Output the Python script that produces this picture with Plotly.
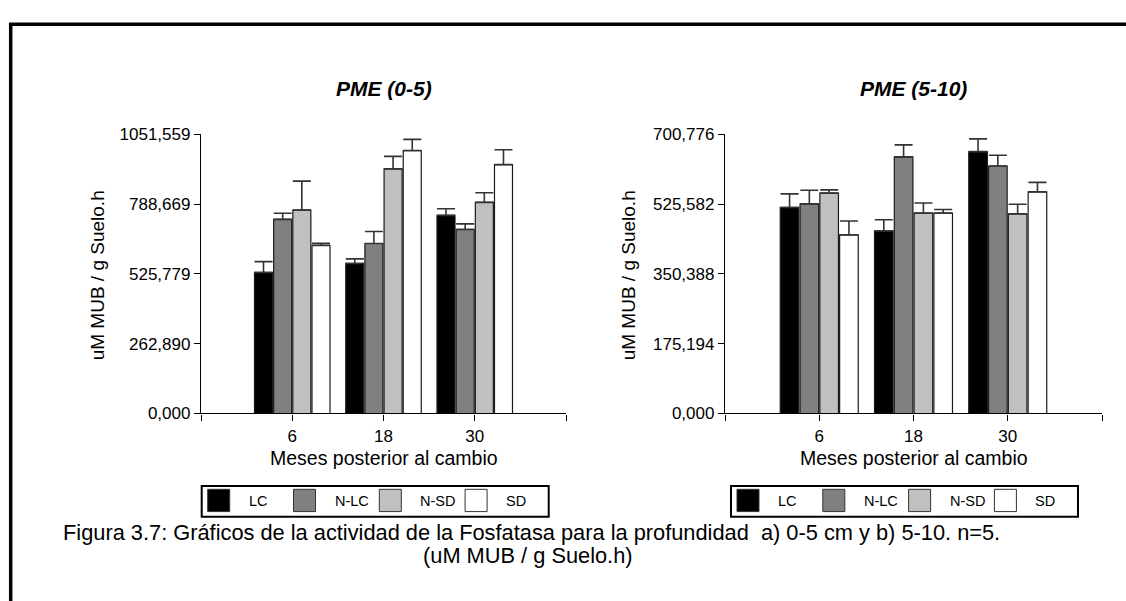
import plotly.graph_objects as go

# ---- data -------------------------------------------------------------
months = ["6", "18", "30"]
series = ["LC", "N-LC", "N-SD", "SD"]
colors = ["#000000", "#808080", "#c0c0c0", "#ffffff"]

# PME activity, 0-5 cm (means and upper SE per series, months 6/18/30)
pme05_lc = [531, 565, 746]
pme05_nlc = [731, 640, 693]
pme05_nsd = [766, 921, 795]
pme05_sd = [633, 990, 937]
pme05_lc_err = [41, 17, 25]
pme05_nlc_err = [23, 45, 21]
pme05_nsd_err = [109, 47, 36]
pme05_sd_err = [8, 42, 56]

# PME activity, 5-10 cm
pme510_lc = [517, 458, 657]
pme510_nlc = [526, 644, 621]
pme510_nsd = [553, 503, 501]
pme510_sd = [448, 503, 556]
pme510_lc_err = [34, 28, 32]
pme510_nlc_err = [34, 30, 27]
pme510_nsd_err = [8, 25, 24]
pme510_sd_err = [35, 9, 24]

yticks_05 = [0.0, 262.890, 525.779, 788.669, 1051.559]
yticks_510 = [0.0, 175.194, 350.388, 525.582, 700.776]
ytext_05 = ["0,000", "262,890", "525,779", "788,669", "1051,559"]
ytext_510 = ["0,000", "175,194", "350,388", "525,582", "700,776"]

titles = ["PME (0-5)", "PME (5-10)"]
ytitle = "uM MUB / g Suelo.h"
xtitle = "Meses posterior al cambio"
caption1 = ("Figura 3.7: Gráficos de la actividad de la Fosfatasa para la "
            "profundidad  a) 0-5 cm y b) 5-10. n=5.")
caption2 = "(uM MUB / g Suelo.h)"

# ---- layout helpers (pixel -> paper) ---------------------------------
W, H = 1126, 601
FONT = "Liberation Sans, Arial, sans-serif"


def fx(p):
    return p / W


def fy(p):
    return 1 - p / H


panels = [
    dict(means=[pme05_lc, pme05_nlc, pme05_nsd, pme05_sd],
         errs=[pme05_lc_err, pme05_nlc_err, pme05_nsd_err, pme05_sd_err],
         xa="x", ya="y", x0=201, x1=566, ticks=yticks_05, ttext=ytext_05,
         ytitle_x=97, legend_x=201.7),
    dict(means=[pme510_lc, pme510_nlc, pme510_nsd, pme510_sd],
         errs=[pme510_lc_err, pme510_nlc_err, pme510_nsd_err, pme510_sd_err],
         xa="x2", ya="y2", x0=725, x1=1102, ticks=yticks_510, ttext=ytext_510,
         ytitle_x=628, legend_x=731),
]

x_pos = list(range(len(months)))
AX_TOP, AX_BOT = 129.3, 417.7

fig = go.Figure()
for p in panels:
    for i, name in enumerate(series):
        fig.add_trace(go.Bar(
            x=x_pos, y=p["means"][i], name=name, offsetgroup=name,
            xaxis=p["xa"], yaxis=p["ya"], showlegend=False,
            marker=dict(color=colors[i], line=dict(color="#1a1a1a", width=1.2)),
            error_y=dict(type="data", symmetric=False, array=p["errs"][i],
                         arrayminus=[0] * len(months), color="#333333",
                         thickness=1.6, width=9),
        ))

axis_common = dict(showline=True, linecolor="black", linewidth=1.3,
                   ticks="outside", ticklen=6, tickwidth=1.3, tickcolor="black",
                   showgrid=False, zeroline=False,
                   tickfont=dict(family=FONT, size=17, color="black"))

layout = dict(
    width=W, height=H, margin=dict(l=0, r=0, t=0, b=0),
    paper_bgcolor="white", plot_bgcolor="white",
    barmode="group", bargap=0.16, bargroupgap=0.06, showlegend=False,
)

annotations = []
shapes = []

# outer frame
shapes.append(dict(type="rect", xref="paper", yref="paper",
                   x0=fx(10.7), x1=1.05, y0=-0.05, y1=fy(15.7),
                   line=dict(color="black", width=3.5), fillcolor="rgba(0,0,0,0)"))

for k, p in enumerate(panels):
    xkey = "xaxis" if k == 0 else "xaxis2"
    ykey = "yaxis" if k == 0 else "yaxis2"
    layout[xkey] = dict(axis_common, domain=[fx(p["x0"]), fx(p["x1"])],
                        range=[-1, 3], tickvals=[-1, 0, 1, 2, 3],
                        ticktext=[""] + months + [""], anchor=p["ya"],
                        ticklabelstandoff=1)
    layout[ykey] = dict(axis_common, domain=[fy(AX_BOT), fy(AX_TOP)],
                        range=[0, p["ticks"][-1]], tickvals=p["ticks"],
                        ticktext=p["ttext"], anchor=p["xa"])

    cx = (p["x0"] + p["x1"]) / 2
    annotations.append(dict(text="<b><i>%s</i></b>" % titles[k], x=fx(cx), y=fy(81.7),
                            xref="paper", yref="paper", showarrow=False,
                            xanchor="center", yanchor="middle",
                            font=dict(family=FONT, size=21, color="black")))
    annotations.append(dict(text=ytitle, x=fx(p["ytitle_x"]), y=fy(275),
                            xref="paper", yref="paper", showarrow=False, textangle=-90,
                            xanchor="center", yanchor="middle",
                            font=dict(family=FONT, size=19, color="black")))
    annotations.append(dict(text=xtitle, x=fx(cx), y=fy(464),
                            xref="paper", yref="paper", showarrow=False,
                            xanchor="center", yanchor="middle",
                            font=dict(family=FONT, size=19.5, color="black")))

    # legend box with swatches
    lx = p["legend_x"]
    shapes.append(dict(type="rect", xref="paper", yref="paper",
                       x0=fx(lx), x1=fx(lx + 347), y0=fy(524.3), y1=fy(492.7),
                       line=dict(color="black", width=2), fillcolor="white"))
    for i, name in enumerate(series):
        sx = lx + 6 + 85.8 * i
        shapes.append(dict(type="rect", xref="paper", yref="paper",
                           x0=fx(sx), x1=fx(sx + 22), y0=fy(519), y1=fy(496),
                           line=dict(color="#333333", width=1), fillcolor=colors[i]))
        annotations.append(dict(text=name, x=fx(sx + 39), y=fy(508),
                                xref="paper", yref="paper", showarrow=False,
                                xanchor="left", yanchor="middle",
                                font=dict(family=FONT, size=14.5, color="black")))

annotations.append(dict(text=caption1, x=fx(531), y=fy(540.5), xref="paper", yref="paper",
                        showarrow=False, xanchor="center", yanchor="middle",
                        font=dict(family=FONT, size=21.8, color="black")))
annotations.append(dict(text=caption2, x=fx(528), y=fy(564), xref="paper", yref="paper",
                        showarrow=False, xanchor="center", yanchor="middle",
                        font=dict(family=FONT, size=21.8, color="black")))

layout["annotations"] = annotations
layout["shapes"] = shapes
fig.update_layout(**layout)

fig.write_html("out.html")
